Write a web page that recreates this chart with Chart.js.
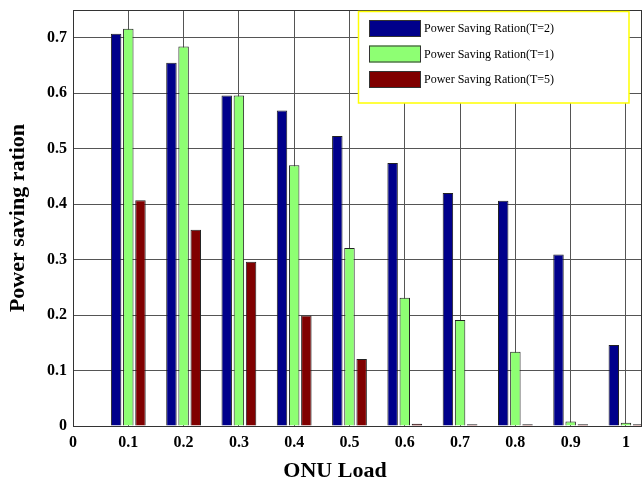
<!DOCTYPE html>
<html lang="en">
<head>
    <meta charset="UTF-8">
    <title>Power saving ration vs ONU Load</title>
    <style>
        body {
            margin: 0;
            background: #fff;
        }
        #wrap {
            width: 642px;
            height: 485px;
        }
    </style>
</head>
<body>
    <div id="wrap">
        <canvas id="myChart" width="642" height="485"></canvas>
    </div>

    <script src="https://cdn.jsdelivr.net/npm/chart.js@4.4.1/dist/chart.umd.min.js"></script>
    <script>
        // values
        var onuLoad = [0.1, 0.2, 0.3, 0.4, 0.5, 0.6, 0.7, 0.8, 0.9, 1];
        var savingT2 = [0.707, 0.655, 0.596, 0.569, 0.523, 0.474, 0.420, 0.406, 0.309, 0.146];
        var savingT1 = [0.716, 0.684, 0.596, 0.470, 0.321, 0.231, 0.191, 0.134, 0.008, 0.006];
        var savingT5 = [0.407, 0.354, 0.296, 0.199, 0.121, 0.004, 0.003, 0.003, 0.003, 0.003];
        var seriesNames = ['Power Saving Ration(T=2)', 'Power Saving Ration(T=1)', 'Power Saving Ration(T=5)'];
        var seriesColors = ['#00008B', '#8EFF73', '#800000'];

        var serif = "'Liberation Serif', 'Times New Roman', serif";

        function points(values) {
            return onuLoad.map(function(x, i) {
                return { x: x, y: values[i] };
            });
        }

        function fmt(v) {
            var r = Math.round(v * 10) / 10;
            return String(r);
        }

        // legend box + x title drawn on top of the plot
        var boxLegend = {
            id: 'boxLegend',
            afterDraw: function(chart) {
                var ctx = chart.ctx;
                var area = chart.chartArea;
                ctx.save();

                // frame around plot area
                ctx.strokeStyle = '#333';
                ctx.lineWidth = 1;
                ctx.strokeRect(area.left + 0.5, area.top + 0.5, area.right - area.left - 1, area.bottom - area.top);

                // legend
                var lx = 358.5, ly = 11.5, lw = 270.5, lh = 91.5;
                ctx.fillStyle = '#fff';
                ctx.fillRect(lx, ly, lw, lh);
                ctx.strokeStyle = '#FFFF00';
                ctx.lineWidth = 1.5;
                ctx.strokeRect(lx, ly, lw, lh);

                ctx.font = '12px ' + serif;
                ctx.textBaseline = 'middle';
                chart.data.datasets.forEach(function(ds, i) {
                    var y = 20 + i * 25.5;
                    ctx.fillStyle = ds.backgroundColor;
                    ctx.fillRect(369, y, 52, 17);
                    ctx.strokeStyle = '#333';
                    ctx.lineWidth = 1;
                    ctx.strokeRect(369.5, y + 0.5, 51, 16);
                    ctx.fillStyle = '#000';
                    ctx.fillText(ds.label, 424, y + 9);
                });

                // x axis title
                ctx.font = 'bold 22px ' + serif;
                ctx.textAlign = 'center';
                ctx.textBaseline = 'middle';
                ctx.fillStyle = '#000';
                ctx.fillText('ONU Load', 335, 471);
                ctx.restore();
            }
        };

        var ctx = document.getElementById('myChart').getContext('2d');
        var myChart = new Chart(ctx, {
            type: 'bar',
            data: {
                datasets: [savingT2, savingT1, savingT5].map(function(vals, i) {
                    return {
                        label: seriesNames[i],
                        data: points(vals),
                        backgroundColor: seriesColors[i],
                        borderColor: '#222',
                        borderWidth: 1,
                        categoryPercentage: 0.66,
                        barPercentage: 0.86
                    };
                })
            },
            options: {
                responsive: false,
                animation: false,
                devicePixelRatio: 1,
                layout: {
                    padding: { top: 10, right: 0, left: 0, bottom: 0 }
                },
                plugins: {
                    legend: { display: false },
                    tooltip: { enabled: false }
                },
                scales: {
                    x: {
                        type: 'linear',
                        min: 0,
                        max: 1.029,
                        offset: false,
                        grid: {
                            offset: false,
                            color: '#555',
                            lineWidth: 1,
                            drawTicks: false
                        },
                        border: { color: '#333' },
                        ticks: {
                            stepSize: 0.1,
                            includeBounds: false,
                            maxRotation: 0,
                            autoSkip: false,
                            padding: 7,
                            color: '#000',
                            font: { family: serif, size: 16, weight: 'bold' },
                            callback: function(v) { return fmt(v); }
                        },
                        afterFit: function(scale) {
                            scale.height = 59;
                            scale.paddingLeft = 0;
                            scale.paddingRight = 0;
                        }
                    },
                    y: {
                        min: 0,
                        max: 0.75,
                        grid: {
                            color: '#555',
                            lineWidth: 1,
                            drawTicks: false
                        },
                        border: { color: '#333' },
                        ticks: {
                            stepSize: 0.1,
                            includeBounds: false,
                            padding: 6,
                            color: '#000',
                            font: { family: serif, size: 16, weight: 'bold' },
                            callback: function(v) { return fmt(v); }
                        },
                        title: {
                            display: true,
                            text: 'Power saving ration',
                            color: '#000',
                            font: { family: serif, size: 22, weight: 'bold' },
                            padding: { top: 5, bottom: 0 }
                        },
                        afterFit: function(scale) {
                            scale.width = 73;
                            scale.paddingTop = 0;
                            scale.paddingBottom = 0;
                        }
                    }
                }
            },
            plugins: [boxLegend]
        });
    </script>
</body>
</html>
